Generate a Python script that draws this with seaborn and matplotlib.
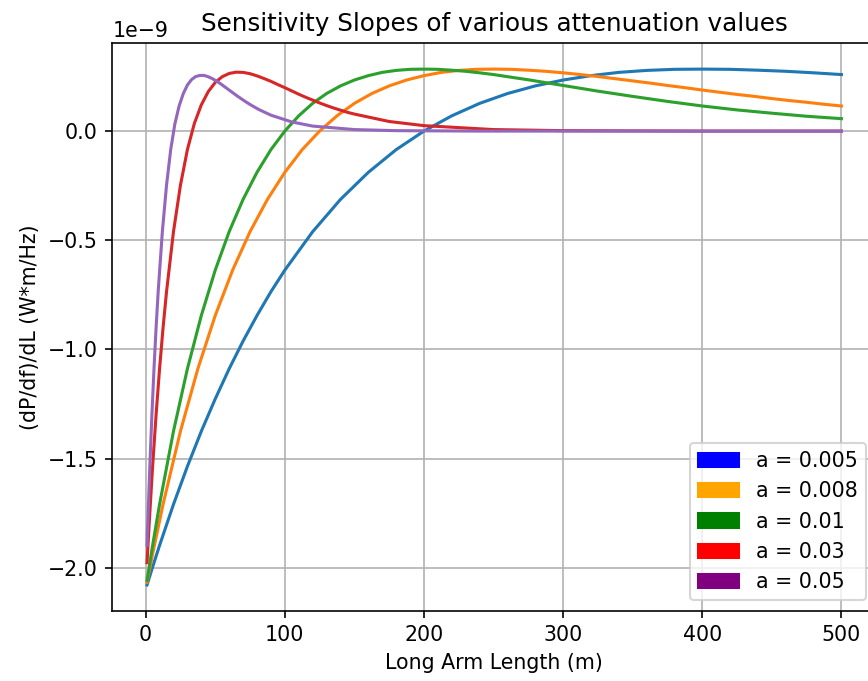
import numpy as np
import pandas as pd
import matplotlib
matplotlib.use("Agg")
import matplotlib.pyplot as plt
from matplotlib.patches import Patch
import seaborn as sns

# Long arm length (m) and (dP/df)/dL values (units of 1e-9 W*m/Hz)
L_a005 = [1, 5, 10, 20, 30, 40, 50, 60, 70, 80, 90, 100, 120, 140, 160, 180,
          200, 220, 240, 260, 280, 300, 320, 340, 360, 380, 400, 420, 440, 460,
          480, 500]
slope_a005 = [-2.079, -1.997, -1.898, -1.710, -1.536, -1.375, -1.227, -1.089,
              -0.962, -0.845, -0.736, -0.637, -0.461, -0.313, -0.189, -0.085,
              0.000, 0.070, 0.127, 0.172, 0.207, 0.234, 0.254, 0.269, 0.278,
              0.283, 0.284, 0.283, 0.279, 0.274, 0.267, 0.259]

L_a008 = [1, 5, 12.5, 25, 37.5, 50, 62.5, 75, 87.5, 100, 112.5, 125, 137.5,
          150, 162.5, 175, 187.5, 200, 212.5, 225, 237.5, 250, 262.5, 275,
          287.5, 300, 312.5, 325, 337.5, 350, 362.5, 375, 387.5, 400, 412.5,
          425, 437.5, 450, 462.5, 475, 487.5, 500]
slope_a008 = [-2.067, -1.937, -1.710, -1.375, -1.089, -0.845, -0.637, -0.461,
              -0.313, -0.189, -0.085, 0.000, 0.070, 0.127, 0.172, 0.207, 0.234,
              0.254, 0.269, 0.278, 0.283, 0.284, 0.283, 0.279, 0.274, 0.267,
              0.259, 0.250, 0.240, 0.230, 0.220, 0.209, 0.199, 0.188, 0.178,
              0.168, 0.159, 0.149, 0.140, 0.132, 0.123, 0.115]

L_a01 = [1, 5, 10, 20, 30, 40, 50, 60, 70, 80, 90, 100, 110, 120, 130, 140,
         150, 160, 170, 180, 190, 200, 210, 220, 230, 240, 250, 275, 300, 325,
         350, 375, 400, 425, 450, 475, 500]
slope_a01 = [-2.058, -1.898, -1.710, -1.375, -1.089, -0.845, -0.637, -0.461,
             -0.313, -0.189, -0.085, 0.000, 0.070, 0.127, 0.172, 0.207, 0.234,
             0.254, 0.269, 0.278, 0.283, 0.284, 0.283, 0.279, 0.274, 0.267,
             0.259, 0.235, 0.209, 0.183, 0.159, 0.136, 0.115, 0.097, 0.082,
             0.068, 0.057]

L_a03 = [1, 2.5, 5, 7.5, 10, 12.5, 15, 20, 25, 30, 35, 40, 45, 50, 55, 60, 65,
         70, 75, 80, 85, 90, 95, 100, 105, 110, 115, 120, 125, 130, 135, 140,
         145, 150, 175, 200, 250, 300, 350, 400, 450, 500]
slope_a03 = [-1.977, -1.802, -1.536, -1.300, -1.089, -0.902, -0.736, -0.461,
             -0.248, -0.085, 0.035, 0.120, 0.181, 0.223, 0.249, 0.264, 0.270,
             0.269, 0.263, 0.253, 0.241, 0.228, 0.213, 0.199, 0.184, 0.169,
             0.155, 0.142, 0.129, 0.117, 0.106, 0.096, 0.086, 0.078, 0.044,
             0.025, 0.007, 0.002, 0.001, 0.000, 0.000, 0.000]

L_a05 = [1, 1.5, 3, 4.5, 6, 7.5, 9, 12, 15, 18, 21, 24, 27, 30, 33, 36, 39, 42,
         45, 48, 51, 54, 57, 60, 63, 66, 69, 72, 75, 78, 81, 84, 87, 90, 105,
         120, 150, 180, 210, 240, 270, 300, 400, 500]
slope_a05 = [-1.898, -1.802, -1.536, -1.300, -1.089, -0.902, -0.736, -0.461,
             -0.248, -0.085, 0.033, 0.114, 0.171, 0.211, 0.236, 0.250, 0.255,
             0.255, 0.249, 0.240, 0.229, 0.216, 0.202, 0.188, 0.174, 0.160,
             0.147, 0.134, 0.122, 0.111, 0.100, 0.091, 0.082, 0.073, 0.042,
             0.023, 0.007, 0.002, 0.001, 0.000, 0.000, 0.000, 0.000, 0.000]

labels = ["a = 0.005", "a = 0.008", "a = 0.01", "a = 0.03", "a = 0.05"]
legend_colors = ["blue", "orange", "green", "red", "purple"]
scale = 1e-9

series = [(L_a005, slope_a005), (L_a008, slope_a008), (L_a01, slope_a01),
          (L_a03, slope_a03), (L_a05, slope_a05)]
frames = []
for lab, (xs, ys) in zip(labels, series):
    frames.append(pd.DataFrame({"L": xs,
                                "slope": np.array(ys) * scale,
                                "atten": lab}))
df = pd.concat(frames, ignore_index=True)

fig = plt.figure(figsize=(868 / 148, 681 / 148), dpi=148)
ax = fig.add_axes([0.1294, 0.1032, 0.880, 0.8332])

sns.lineplot(data=df, x="L", y="slope", hue="atten", hue_order=labels,
             palette=sns.color_palette("tab10", 5), legend=False, ax=ax)

ax.grid(True)
ax.set_title("Sensitivity Slopes of various attenuation values")
ax.set_xlabel("Long Arm Length (m)")
ax.set_ylabel("(dP/df)/dL (W*m/Hz)")

handles = [Patch(color=c, label=l) for c, l in zip(legend_colors, labels)]
ax.legend(handles=handles, loc="lower right")

fig.savefig("out.png", dpi=148)
